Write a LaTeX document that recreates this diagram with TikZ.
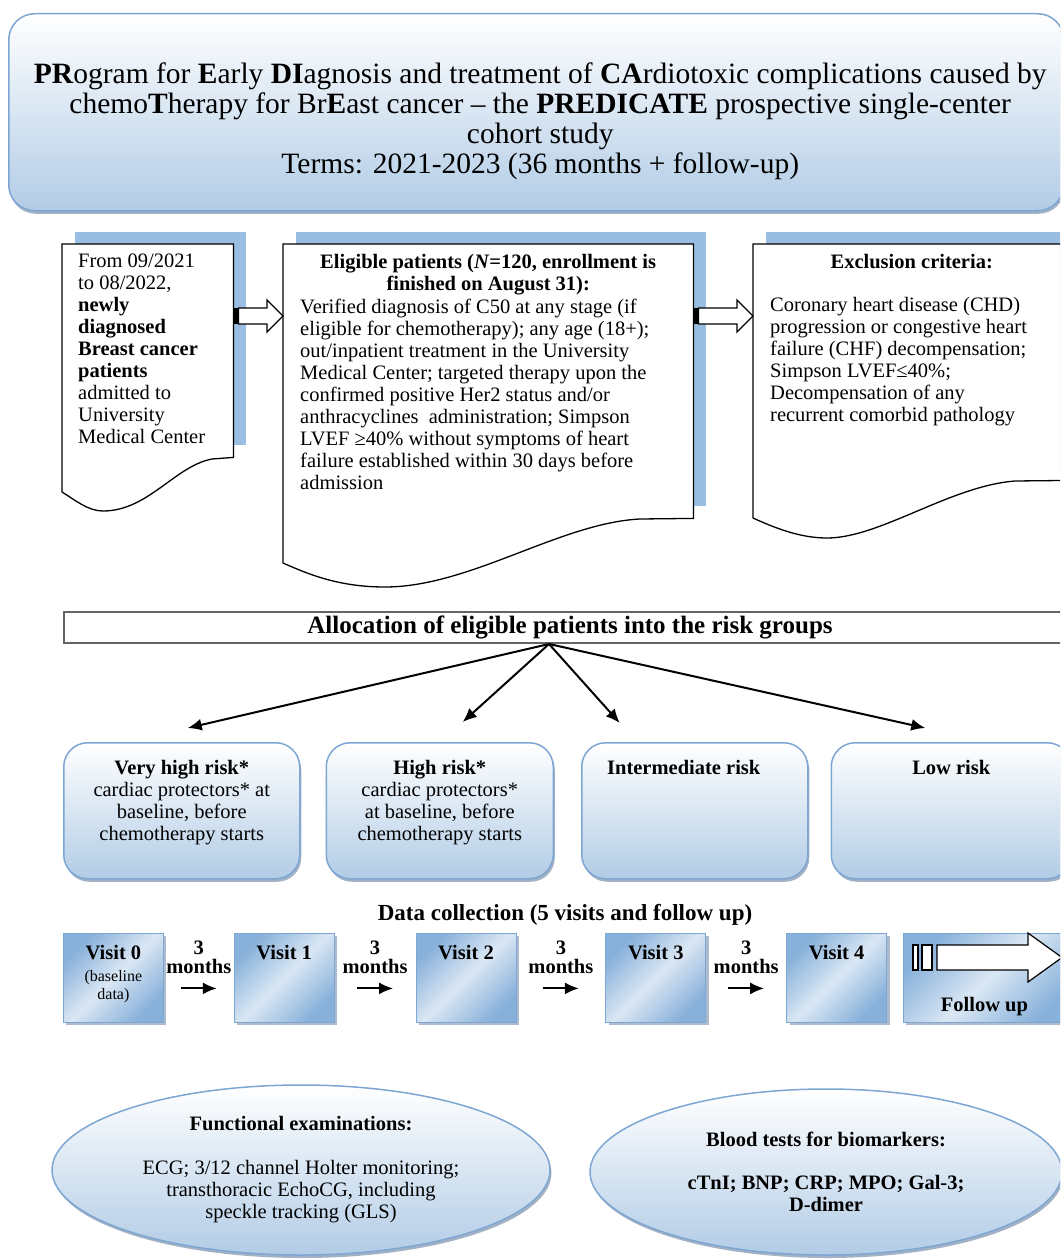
\documentclass[tikz,border=0pt]{standalone}
\usepackage{fontspec}
\setmainfont{Liberation Serif}
\usetikzlibrary{arrows.meta,positioning,calc,shapes.geometric,shadows}

\definecolor{frameBlue}{RGB}{125,166,210}
\definecolor{fadeBlue}{RGB}{178,204,230}
\definecolor{backBlue}{RGB}{153,190,225}
\definecolor{visitDark}{RGB}{135,176,218}
\definecolor{visitLight}{RGB}{218,231,244}
\definecolor{shadowGrey}{RGB}{140,158,182}
\definecolor{allocGrey}{RGB}{100,100,100}

\newcommand{\bodyfont}{\fontsize{20.5}{22}\selectfont}
% striped block arrow between two points at the same height
\newcommand{\stripedarrow}[2]{%
  \fill let \p1=(#1) in (\x1,\y1-8pt) rectangle (\x1+5pt,\y1+8pt);
  \draw[line width=1.2pt, fill=white] let \p1=(#1), \p2=(#2) in
    (\x1+5pt,\y1+8pt) -- (\x2-16pt,\y1+8pt) -- (\x2-16pt,\y1+16pt) -- (\x2,\y1)
    -- (\x2-16pt,\y1-16pt) -- (\x2-16pt,\y1-8pt) -- (\x1+5pt,\y1-8pt) -- cycle;}

\begin{document}
\begin{tikzpicture}[x=1pt, y=-1pt,
  every node/.style={inner sep=0pt, font=\bodyfont},
  titlebox/.style={draw=frameBlue, line width=1.5pt, rounded corners=26pt, top color=white, bottom color=fadeBlue,
    drop shadow={shadow xshift=1pt, shadow yshift=-3pt, fill=shadowGrey, opacity=.8}},
  docline/.style={draw=black, line width=1.3pt, fill=white},
  allocbox/.style={draw=allocGrey, line width=2pt, anchor=north west, minimum width=1012pt, minimum height=31pt,
    font=\fontsize{25}{26}\selectfont\bfseries},
  riskbox/.style={draw=frameBlue, line width=1.5pt, rounded corners=24pt, top color=white, bottom color=fadeBlue,
    anchor=north west, minimum height=136pt,
    drop shadow={shadow xshift=1.5pt, shadow yshift=-3pt, fill=shadowGrey, opacity=.8}},
  risklabel/.style={align=center},
  visitbox/.style={draw=frameBlue, line width=.8pt, minimum width=100pt, minimum height=89pt,
    top color=visitDark, bottom color=visitDark, middle color=visitLight, shading angle=45,
    drop shadow={shadow xshift=3pt, shadow yshift=-3pt, fill=shadowGrey, opacity=.7}},
  visitlabel/.style={font=\bodyfont\bfseries, align=center},
  monthlabel/.style={font=\fontsize{20.5}{19}\selectfont\bfseries, align=center, anchor=south},
  arrow/.style={-{Latex[length=14pt,width=12pt]}, line width=2pt},
  ovalbox/.style={ellipse, draw=frameBlue, line width=1.5pt, top color=white, bottom color=fadeBlue, align=center,
    drop shadow={shadow xshift=1.5pt, shadow yshift=-3pt, fill=shadowGrey, opacity=.8}}
]
\useasboundingbox (0,0) rectangle (1060,1260);
\clip (0,0) rectangle (1060,1260);

% title
\node[titlebox, anchor=north west, minimum width=1055pt, minimum height=197pt] (titleBox) at (8,13) {};
\node[font=\fontsize{29.5}{30}\selectfont, align=center] (titleText) at ([xshift=4pt,yshift=-9pt]titleBox.center)
  {\textbf{PR}ogram for \textbf{E}arly \textbf{DI}agnosis and treatment of \textbf{CA}rdiotoxic complications caused by\\
   chemo\textbf{T}herapy for Br\textbf{E}ast cancer – the \textbf{PREDICATE} prospective single-center\\
   cohort study\\
   Terms: 2021-2023 (36 months + follow-up)};

% inclusion row
\node[anchor=north west, minimum width=171pt, minimum height=213pt] (cohortBox) at (62,244) {};
\node[anchor=north west, minimum width=410pt, minimum height=274pt] (eligBox) at (283,244) {};
\node[anchor=north west, minimum width=317pt, minimum height=236pt] (exclBox) at (753,244) {};
\fill[backBlue] ([shift={(13pt,12pt)}]cohortBox.south west) rectangle ([shift={(13pt,12pt)}]cohortBox.north east);
\fill[backBlue] ([shift={(13pt,12pt)}]eligBox.south west) rectangle ([shift={(13pt,12pt)}]eligBox.north east);
\fill[backBlue] ([shift={(13pt,12pt)}]exclBox.south west) rectangle ([shift={(13pt,12pt)}]exclBox.north east);
\draw[docline] (cohortBox.north west) -- (cohortBox.north east) -- (cohortBox.south east) -- (212,459)
  .. controls (175,466) and (148,511) .. (103,511) .. controls (88,511) and (75,500) .. (62,492) -- cycle;
\draw[docline] (eligBox.north west) -- (eligBox.north east) -- (eligBox.south east) -- (640,519)
  .. controls (560,523) and (470,587) .. (385,587) .. controls (340,587) and (310,575) .. (283,563) -- cycle;
\draw[docline] (exclBox.north west) -- (exclBox.north east) -- (exclBox.south east) -- (1015,481)
  .. controls (950,486) and (880,538) .. (827,538) .. controls (800,538) and (775,528) .. (753,518) -- cycle;

\node[align=left, below right=10pt and 16pt of cohortBox.north west] (cohortText)
  {From 09/2021\\to 08/2022,\\\textbf{newly}\\\textbf{diagnosed}\\\textbf{Breast cancer}\\\textbf{patients}\\admitted to\\University\\Medical Center};
\node[align=center, font=\bodyfont\bfseries, below=10pt of eligBox.north] (eligHead)
  {Eligible patients (\textit{N}=120, enrollment is\\finished on August 31):};
\node[align=left, below right=55pt and 17pt of eligBox.north west] (eligText)
  {Verified diagnosis of C50 at any stage (if\\eligible for chemotherapy); any age (18+);\\out/inpatient treatment in the University\\
   Medical Center; targeted therapy upon the\\confirmed positive Her2 status and/or\\anthracyclines\ \ administration; Simpson\\
   LVEF ≥40\% without symptoms of heart\\failure established within 30 days before\\admission};
\node[font=\bodyfont\bfseries, below=10pt of exclBox.north] (exclHead) {Exclusion criteria:};
\node[align=left, below right=53pt and 17pt of exclBox.north west] (exclText)
  {Coronary heart disease (CHD)\\progression or congestive heart\\failure (CHF) decompensation;\\Simpson LVEF≤40\%;\\
   Decompensation of any\\recurrent comorbid pathology};

\coordinate (arrowLevel) at (0,316);
\stripedarrow{cohortBox.east |- arrowLevel}{eligBox.west |- arrowLevel}
\stripedarrow{eligBox.east |- arrowLevel}{exclBox.west |- arrowLevel}

% allocation into risk groups
\node[allocbox] (alloc) at (63,611) {Allocation of eligible patients into the risk groups};
\coordinate (allocHub) at ([xshift=-21pt]alloc.south);

\node[riskbox, minimum width=236pt] (veryHigh) at (63,742) {};
\node[riskbox, minimum width=227pt, right=25pt of veryHigh] (high) {};
\node[riskbox, minimum width=226pt, right=27pt of high] (intermediate) {};
\node[riskbox, minimum width=240pt, right=22pt of intermediate] (low) {};
\node[risklabel, below=18pt of veryHigh.north] (veryHighText)
  {\textbf{Very high risk*}\\cardiac protectors* at\\baseline, before\\chemotherapy starts};
\node[risklabel, below=18pt of high.north] (highText)
  {\textbf{High risk*}\\cardiac protectors*\\at baseline, before\\chemotherapy starts};
\node[risklabel, below=18pt of intermediate.north, xshift=-11pt] (intermediateText) {\textbf{Intermediate risk}};
\node[risklabel, below=18pt of low.north] (lowText) {\textbf{Low risk}};

\draw[arrow] (allocHub) -- ([xshift=6pt,yshift=14pt]veryHigh.north);
\draw[arrow] (allocHub) -- ([xshift=23pt,yshift=20pt]high.north);
\draw[arrow] (allocHub) -- ([xshift=-75pt,yshift=19pt]intermediate.north);
\draw[arrow] (allocHub) -- ([xshift=-26pt,yshift=14pt]low.north);

% data collection
\node[font=\fontsize{23}{24}\selectfont\bfseries] (dataHead) at (565,915) {Data collection (5 visits and follow up)};
\node[visitbox, anchor=north west] (visit0) at (63,933) {};
\node[visitbox, right=70pt of visit0] (visit1) {};
\node[visitbox, right=81pt of visit1] (visit2) {};
\node[visitbox, right=89pt of visit2] (visit3) {};
\node[visitbox, right=80pt of visit3] (visit4) {};
\node[visitbox, right=16pt of visit4, minimum width=170pt] (followUp) {};

\node[visitlabel, below=12pt of visit0.north] (visit0Text) {Visit 0};
\node[font=\fontsize{16}{18}\selectfont, align=center, below=10pt of visit0Text] (visit0Note) {(baseline\\data)};
\node[visitlabel, below=12pt of visit1.north] (visit1Text) {Visit 1};
\node[visitlabel, below=12pt of visit2.north] (visit2Text) {Visit 2};
\node[visitlabel, below=12pt of visit3.north] (visit3Text) {Visit 3};
\node[visitlabel, below=12pt of visit4.north] (visit4Text) {Visit 4};
\node[visitlabel, above=7pt of followUp.south, xshift=-4pt] (followText) {Follow up};

\draw[line width=1.2pt, fill=white] (913,945) rectangle (918,970);
\draw[line width=1.2pt, fill=white] (922,945) rectangle (932,970);
\draw[line width=1.2pt, fill=white] (937,945) -- (1028,945) -- (1028,933) -- (1062,957.5) -- (1028,982) -- (1028,970) -- (937,970) -- cycle;

\node[monthlabel] (gap1) at ($(visit0.east)!0.5!(visit1.west)+(0,-4.5)$) {3\\months};
\node[monthlabel] (gap2) at ($(visit1.east)!0.5!(visit2.west)+(0,-4.5)$) {3\\months};
\node[monthlabel] (gap3) at ($(visit2.east)!0.5!(visit3.west)+(0,-4.5)$) {3\\months};
\node[monthlabel] (gap4) at ($(visit3.east)!0.5!(visit4.west)+(0,-4.5)$) {3\\months};
\draw[arrow] ([xshift=-18pt,yshift=-15pt]gap1.south) -- ([xshift=18pt,yshift=-15pt]gap1.south);
\draw[arrow] ([xshift=-18pt,yshift=-15pt]gap2.south) -- ([xshift=18pt,yshift=-15pt]gap2.south);
\draw[arrow] ([xshift=-18pt,yshift=-15pt]gap3.south) -- ([xshift=18pt,yshift=-15pt]gap3.south);
\draw[arrow] ([xshift=-18pt,yshift=-15pt]gap4.south) -- ([xshift=18pt,yshift=-15pt]gap4.south);

% examinations
\node[ovalbox, minimum width=498pt, minimum height=170pt] (funcExam) at (301,1170)
  {\textbf{Functional examinations:}\\[22pt]ECG; 3/12 channel Holter monitoring;\\transthoracic EchoCG, including\\speckle tracking (GLS)};
\node[ovalbox, minimum width=472pt, minimum height=166pt] (bloodTests) at (826,1172)
  {\textbf{Blood tests for biomarkers:}\\[21pt]\textbf{cTnI; BNP; CRP; MPO; Gal-3;}\\\textbf{D-dimer}};
\end{tikzpicture}
\end{document}
